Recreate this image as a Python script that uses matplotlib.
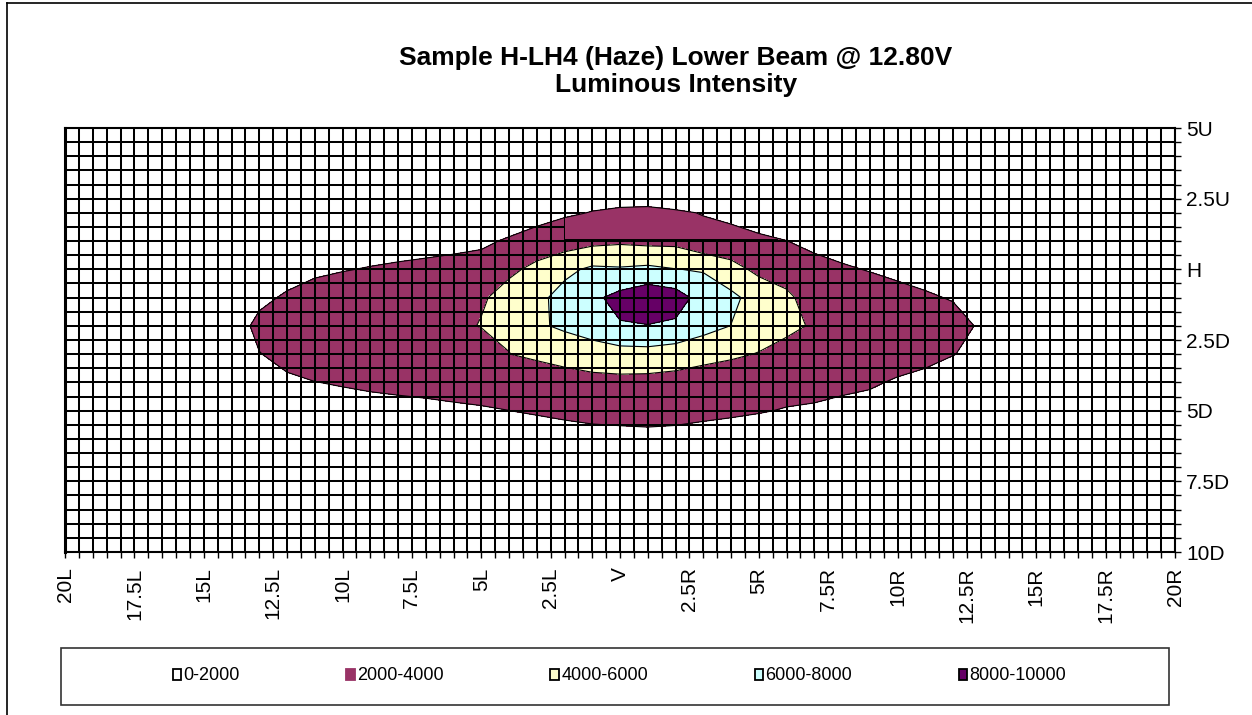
import matplotlib
matplotlib.use("Agg")
import matplotlib.pyplot as plt
import numpy as np
from matplotlib.patches import Patch, Rectangle
from matplotlib.ticker import MultipleLocator, FixedLocator, FixedFormatter

plt.rcParams['font.family'] = ['Liberation Sans', 'DejaVu Sans']

# measured grid (deg): horizontal angle (L negative, R positive), vertical angle (U positive, D negative)
h_angles = [-15, -14, -13, -12, -11, -10, -9, -8, -7, -6, -5, -4, -3, -2, -1,
            0, 1, 2, 3, 4, 5, 6, 7, 8, 9, 10, 11, 12, 13, 14]
v_angles = [3, 2, 1, 0, -1, -2, -3, -4, -5, -6]

# luminous intensity (cd), one row per vertical angle
row_3U = [50, 50, 100, 150, 150, 150, 150, 200, 250, 300, 300, 300, 300, 400, 1060,
          510, 580, 380, 400, 300, 200, 150, 150, 200, 150, 50, 50, 50, 50, 0]
row_2U = [100, 150, 250, 300, 200, 300, 540, 740, 900, 1000, 670, 870, 550, 1780, 2060,
          2350, 2400, 2200, 1930, 1420, 650, 900, 700, 860, 590, 150, 200, 200, 200, 100]
row_1U = [200, 300, 500, 600, 780, 1100, 1310, 1470, 1590, 1680, 1690, 2200, 3570, 3060, 3490,
          3700, 3500, 3500, 2560, 2870, 2500, 2020, 1620, 1500, 1270, 910, 600, 600, 500, 300]
row_H = [300, 450, 900, 1050, 1710, 1930, 2080, 2190, 2270, 2370, 2720, 3850, 4180, 5540, 6340,
         6200, 6420, 6050, 5840, 4570, 3620, 3070, 2500, 2140, 1940, 1680, 1400, 1150, 1000, 600]
row_1D = [400, 650, 1470, 2300, 2640, 2770, 2840, 2910, 2960, 3060, 3900, 4300, 5500, 6690, 7600,
          8600, 9400, 8900, 7200, 6500, 5100, 4400, 3070, 2780, 2610, 2450, 2200, 1890, 1500, 900]
row_2D = [450, 780, 2600, 2900, 3570, 3600, 3610, 3630, 3640, 3750, 4050, 4200, 5780, 6250, 7300,
          7850, 7930, 7680, 6800, 5970, 4800, 4450, 3800, 3420, 3290, 3220, 3000, 2630, 1800, 1100]
row_3D = [400, 700, 1930, 2600, 2900, 2970, 3020, 3050, 3070, 3170, 3310, 3980, 4300, 5000, 4700,
          5240, 5320, 5010, 4450, 4250, 3930, 3330, 3300, 2940, 2840, 2620, 2400, 2040, 1670, 1000]
row_4D = [300, 550, 1300, 1660, 1970, 2130, 2250, 2330, 2380, 2480, 2590, 3000, 3000, 2830, 3610,
          3490, 3410, 3300, 3300, 3000, 3000, 2600, 2500, 2300, 2170, 1850, 1600, 1300, 1200, 700]
row_5D = [200, 350, 800, 1000, 1040, 1300, 1490, 1600, 1700, 1790, 1870, 1990, 2240, 2400, 2500,
          2600, 2650, 2600, 2500, 2300, 2100, 1910, 1810, 1660, 1500, 1080, 800, 600, 600, 400]
row_6D = [100, 200, 400, 500, 200, 500, 720, 880, 1010, 1110, 1150, 1000, 740, 1190, 1440,
          1470, 1530, 1450, 1180, 1100, 1100, 900, 1000, 1020, 820, 310, 100, 100, 200, 100]

levels = [0, 2000, 4000, 6000, 8000, 10000]
level_names = ['0-2000', '2000-4000', '4000-6000', '6000-8000', '8000-10000']
level_colors = ['#FFFFFF', '#993366', '#FFFFCC', '#CCFFFF', '#660066']

x_ticks = [-20, -17.5, -15, -12.5, -10, -7.5, -5, -2.5, 0, 2.5, 5, 7.5, 10, 12.5, 15, 17.5, 20]
x_labels = ['20L', '17.5L', '15L', '12.5L', '10L', '7.5L', '5L', '2.5L', 'V',
            '2.5R', '5R', '7.5R', '10R', '12.5R', '15R', '17.5R', '20R']
y_ticks = [5, 2.5, 0, -2.5, -5, -7.5, -10]
y_labels = ['5U', '2.5U', 'H', '2.5D', '5D', '7.5D', '10D']

Z = np.array([row_3U, row_2U, row_1U, row_H, row_1D, row_2D, row_3D, row_4D, row_5D, row_6D])

W, H = 1252, 715
fig = plt.figure(figsize=(W / 100, H / 100), dpi=100)
ax = fig.add_axes([65 / W, 1 - 552 / H, 1110 / W, 424 / H])

ax.contourf(h_angles, v_angles, Z, levels=levels, colors=level_colors, zorder=1)
ax.contour(h_angles, v_angles, Z, levels=levels[1:-1], colors='black', linewidths=0.8, zorder=4)

# Excel left a patch of the upper lobe painted over the gridlines
patch_cs = ax.contourf(h_angles, v_angles, Z, levels=levels[1:], colors=level_colors[1:], zorder=3)
clip = Rectangle((-1.98, 1.03), 7.64, 4.5, transform=ax.transData)
patch_cs.set_clip_path(clip)
ax.plot([-1.98, 5.66], [1.03, 1.03], color='black', lw=1.4, zorder=3.5)

ax.set_xlim(-20, 20)
ax.set_ylim(-10, 5)

ax.xaxis.set_major_locator(FixedLocator(x_ticks))
ax.xaxis.set_major_formatter(FixedFormatter(x_labels))
ax.xaxis.set_minor_locator(MultipleLocator(0.5))
ax.yaxis.tick_right()
ax.yaxis.set_major_locator(FixedLocator(y_ticks))
ax.yaxis.set_major_formatter(FixedFormatter(y_labels))
ax.yaxis.set_minor_locator(MultipleLocator(0.5))

ax.set_axisbelow(False)
ax.grid(True, which='both', color='black', lw=1.45)
ax.tick_params(which='both', direction='out', length=4, width=1, color='black')
ax.tick_params(axis='x', which='major', labelsize=15, labelrotation=90, pad=7)
ax.tick_params(axis='y', which='major', labelsize=15, pad=4)
for s in ax.spines.values():
    s.set_linewidth(1.5)
ax.spines['left'].set_linewidth(2.2)

fig.text(676 / W, 1 - 65 / H, 'Sample H-LH4 (Haze) Lower Beam @ 12.80V',
         ha='center', va='baseline', fontsize=19, fontweight='bold')
fig.text(676 / W, 1 - 92 / H, 'Luminous Intensity',
         ha='center', va='baseline', fontsize=19, fontweight='bold')

# legend box
fig.patches.append(Rectangle((61 / W, 1 - 705 / H), 1108 / W, 57 / H, transform=fig.transFigure,
                             fill=False, edgecolor='#333333', lw=1.2))
handles = []
for name, c in zip(level_names, level_colors):
    ec = c if c == '#993366' else 'black'
    handles.append(Patch(facecolor=c, edgecolor=ec, lw=1.3, label=name))
fig.legend(handles=handles, loc='center', bbox_to_anchor=(619.5 / W, 1 - 676 / H), ncol=5,
           frameon=False, fontsize=13, handlelength=0.45, handleheight=0.55,
           handletextpad=0.15, columnspacing=5.9)

# outer chart border (only top and left visible)
fig.add_artist(plt.Line2D([7 / W, 7 / W], [0, 1 - 3 / H], transform=fig.transFigure, color='black', lw=1.2))
fig.add_artist(plt.Line2D([7 / W, 1], [1 - 3 / H, 1 - 3 / H], transform=fig.transFigure, color='black', lw=1.2))

plt.savefig("out.png", dpi=100)
